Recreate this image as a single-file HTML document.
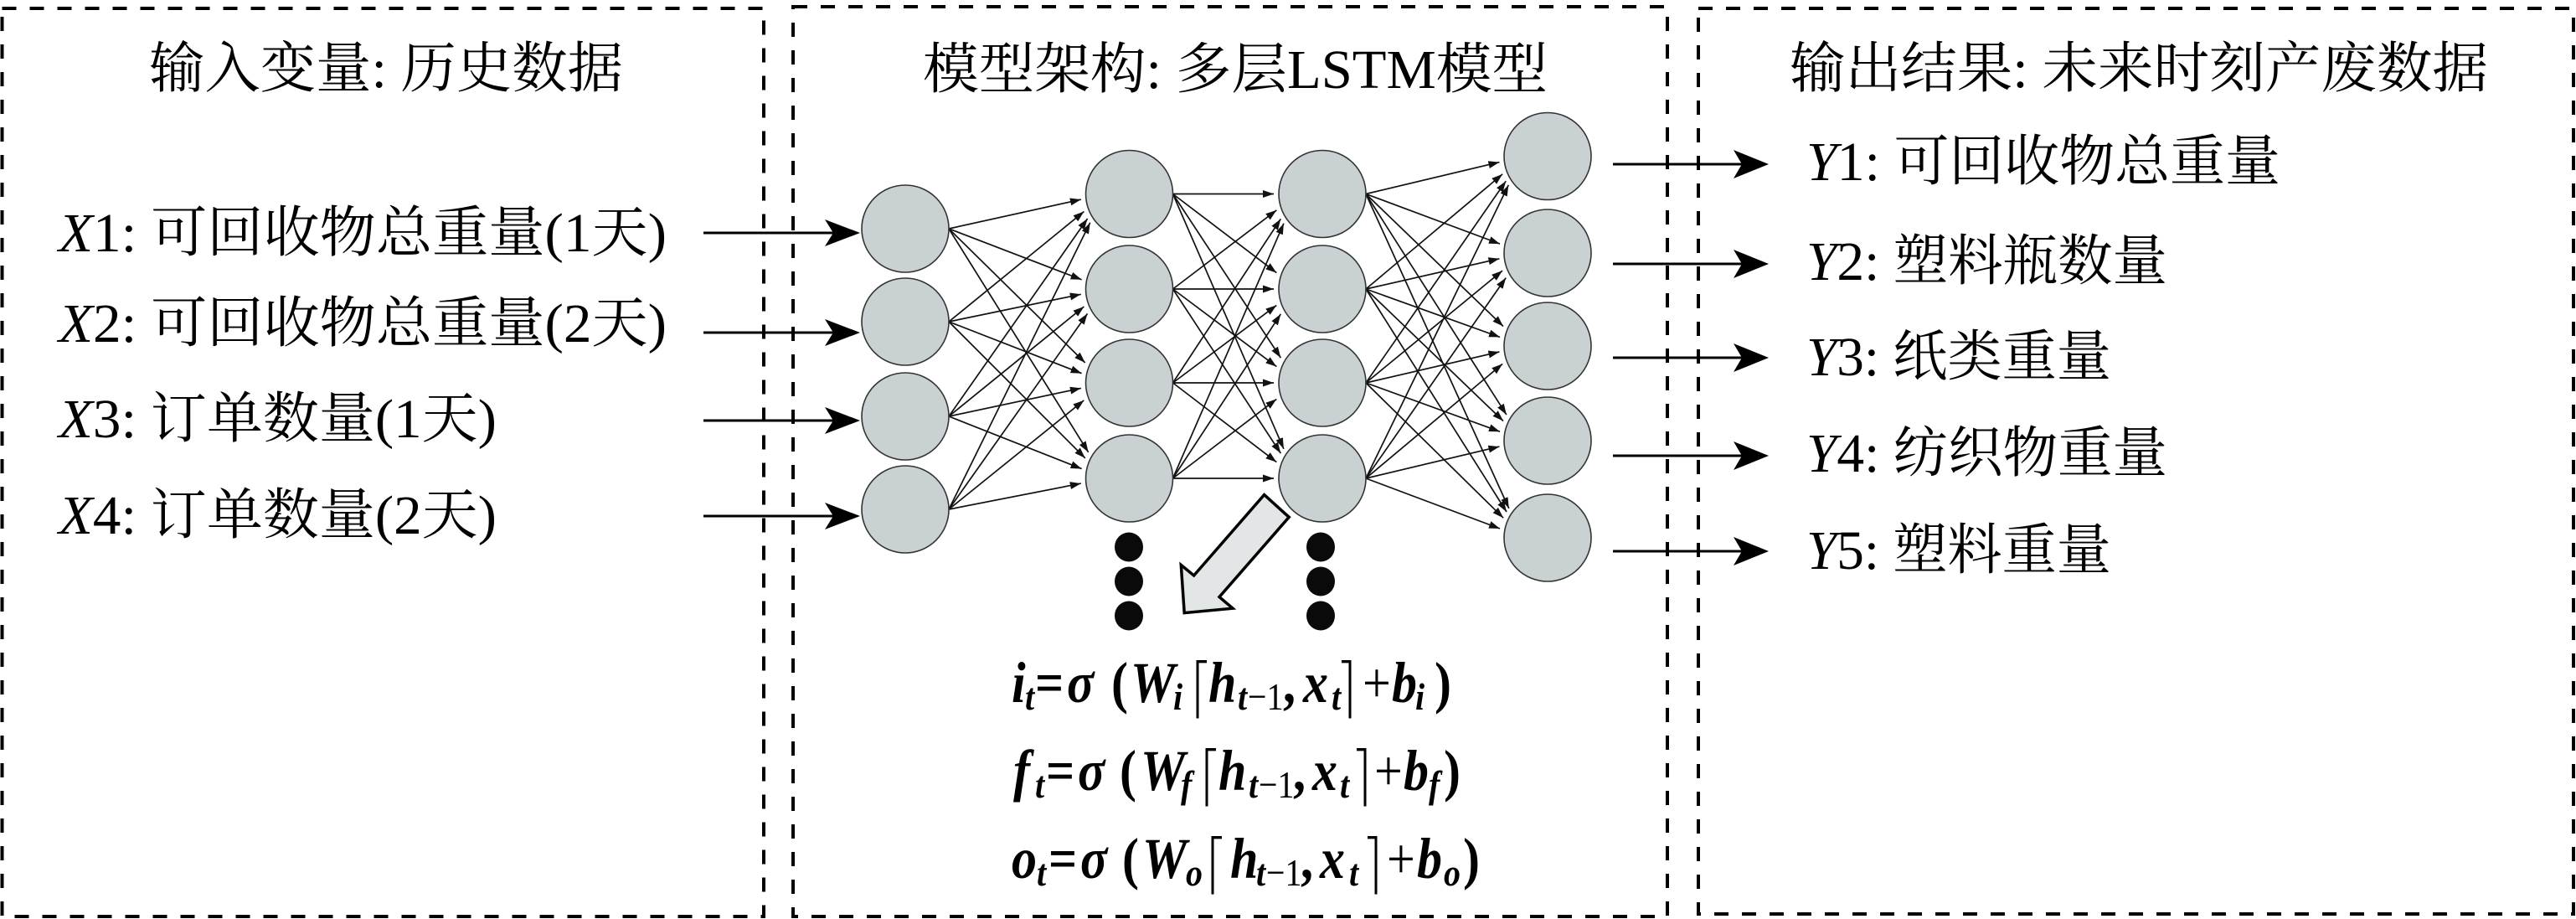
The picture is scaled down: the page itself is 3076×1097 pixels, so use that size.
<!DOCTYPE html>
<html><head><meta charset="utf-8"><style>
html,body{margin:0;padding:0;background:#fff;}
body{width:3076px;height:1097px;overflow:hidden;}
svg{display:block;}
.t{font-family:"Liberation Serif","Noto Serif CJK SC",serif;font-size:66px;fill:#000;}
.m{font-family:"Liberation Serif",serif;font-style:italic;font-weight:bold;font-size:60px;fill:#000;}
.s{font-family:"Liberation Serif",serif;font-style:italic;font-weight:bold;font-size:40px;fill:#000;}
.u{font-family:"Liberation Serif",serif;font-weight:bold;font-size:60px;fill:#000;}
.p{font-family:"Liberation Serif",serif;font-size:60px;fill:#000;}
.su{font-family:"Liberation Serif",serif;font-size:40px;fill:#000;}
.n line{stroke:#111;stroke-width:1.7;marker-end:url(#ah);}
.c{fill:#c9d1d3;stroke:#333;stroke-width:1.6;}
.br{fill:none;stroke:#000;stroke-width:3;}
</style></head><body>
<svg width="3076" height="1097" viewBox="0 0 3076 1097" xmlns="http://www.w3.org/2000/svg">
<defs>
<marker id="ah" markerWidth="14" markerHeight="10" refX="13" refY="5" orient="auto" markerUnits="userSpaceOnUse">
<path d="M0,0.5 L13,5 L0,9.5 z" fill="#111"/>
</marker>
</defs>

<rect x="2.5" y="10" width="909.5" height="1084" fill="none" stroke="#000" stroke-width="4" stroke-dasharray="17 16"/>
<rect x="947" y="8" width="1044" height="1086" fill="none" stroke="#000" stroke-width="4" stroke-dasharray="17 16"/>
<rect x="2028" y="10" width="1045" height="1081" fill="none" stroke="#000" stroke-width="4" stroke-dasharray="17 16"/>

<text class="t" x="178" y="104" textLength="566" lengthAdjust="spacingAndGlyphs">输入变量: 历史数据</text>
<text class="t" x="1102" y="105" textLength="746" lengthAdjust="spacingAndGlyphs">模型架构: 多层LSTM模型</text>
<text class="t" x="2137" y="104" textLength="834" lengthAdjust="spacingAndGlyphs">输出结果: 未来时刻产废数据</text>

<text class="t" x="70" y="300" textLength="726" lengthAdjust="spacingAndGlyphs"><tspan font-style="italic">X</tspan>1: 可回收物总重量(1天)</text>
<text class="t" x="70" y="408" textLength="726" lengthAdjust="spacingAndGlyphs"><tspan font-style="italic">X</tspan>2: 可回收物总重量(2天)</text>
<text class="t" x="70" y="522" textLength="523" lengthAdjust="spacingAndGlyphs"><tspan font-style="italic">X</tspan>3: 订单数量(1天)</text>
<text class="t" x="70" y="637" textLength="523" lengthAdjust="spacingAndGlyphs"><tspan font-style="italic">X</tspan>4: 订单数量(2天)</text>

<g stroke="#000" stroke-width="3">
<line x1="840" y1="278" x2="1000" y2="278"/>
<line x1="840" y1="397" x2="1000" y2="397"/>
<line x1="840" y1="502" x2="1000" y2="502"/>
<line x1="840" y1="616" x2="1000" y2="616"/>
</g>
<g fill="#000">
<path d="M1027,278 L985,262 L995,278 L985,294 z"/>
<path d="M1027,397 L985,381 L995,397 L985,413 z"/>
<path d="M1027,502 L985,486 L995,502 L985,518 z"/>
<path d="M1027,616 L985,600 L995,616 L985,632 z"/>
</g>

<text class="t" x="2157" y="215" textLength="566" lengthAdjust="spacingAndGlyphs"><tspan font-style="italic">Y</tspan>1: 可回收物总重量</text>
<text class="t" x="2157" y="334" textLength="431" lengthAdjust="spacingAndGlyphs"><tspan font-style="italic">Y</tspan>2: 塑料瓶数量</text>
<text class="t" x="2157" y="448" textLength="364" lengthAdjust="spacingAndGlyphs"><tspan font-style="italic">Y</tspan>3: 纸类重量</text>
<text class="t" x="2157" y="563" textLength="431" lengthAdjust="spacingAndGlyphs"><tspan font-style="italic">Y</tspan>4: 纺织物重量</text>
<text class="t" x="2157" y="679" textLength="364" lengthAdjust="spacingAndGlyphs"><tspan font-style="italic">Y</tspan>5: 塑料重量</text>

<g stroke="#000" stroke-width="3">
<line x1="1926" y1="196" x2="2085" y2="196"/>
<line x1="1926" y1="315" x2="2085" y2="315"/>
<line x1="1926" y1="427" x2="2085" y2="427"/>
<line x1="1926" y1="544" x2="2085" y2="544"/>
<line x1="1926" y1="658" x2="2085" y2="658"/>
</g>
<g fill="#000">
<path d="M2112,196 L2070,179 L2080,196 L2070,213 z"/>
<path d="M2112,315 L2070,298 L2080,315 L2070,332 z"/>
<path d="M2112,427 L2070,410 L2080,427 L2070,444 z"/>
<path d="M2112,544 L2070,527 L2080,544 L2070,561 z"/>
<path d="M2112,658 L2070,641 L2080,658 L2070,675 z"/>
</g>

<g class="n">
<line x1="1133" y1="273" x2="1290.9" y2="238.1"/>
<line x1="1133" y1="273" x2="1291.6" y2="333.8"/>
<line x1="1133" y1="273" x2="1295.7" y2="433.0"/>
<line x1="1133" y1="273" x2="1299.6" y2="539.8"/>
<line x1="1133" y1="384" x2="1294.4" y2="252.5"/>
<line x1="1133" y1="384" x2="1290.8" y2="351.3"/>
<line x1="1133" y1="384" x2="1291.6" y2="445.7"/>
<line x1="1133" y1="384" x2="1295.8" y2="546.9"/>
<line x1="1133" y1="497" x2="1298.6" y2="261.0"/>
<line x1="1133" y1="497" x2="1294.4" y2="366.0"/>
<line x1="1133" y1="497" x2="1290.9" y2="463.4"/>
<line x1="1133" y1="497" x2="1291.6" y2="559.6"/>
<line x1="1133" y1="608" x2="1301.7" y2="265.8"/>
<line x1="1133" y1="608" x2="1298.5" y2="374.4"/>
<line x1="1133" y1="608" x2="1294.3" y2="477.9"/>
<line x1="1133" y1="608" x2="1290.8" y2="577.1"/>
<line x1="1400.5" y1="231.5" x2="1521" y2="231.5"/>
<line x1="1400.5" y1="231.5" x2="1524.3" y2="325.6"/>
<line x1="1400.5" y1="231.5" x2="1529.3" y2="427.1"/>
<line x1="1400.5" y1="231.5" x2="1532.9" y2="535.8"/>
<line x1="1400.5" y1="345" x2="1524.3" y2="250.9"/>
<line x1="1400.5" y1="345" x2="1521" y2="345"/>
<line x1="1400.5" y1="345" x2="1524.3" y2="437.6"/>
<line x1="1400.5" y1="345" x2="1529.3" y2="541.1"/>
<line x1="1400.5" y1="457" x2="1529.3" y2="261.4"/>
<line x1="1400.5" y1="457" x2="1524.3" y2="364.4"/>
<line x1="1400.5" y1="457" x2="1521" y2="457"/>
<line x1="1400.5" y1="457" x2="1524.3" y2="551.6"/>
<line x1="1400.5" y1="571" x2="1532.9" y2="266.7"/>
<line x1="1400.5" y1="571" x2="1529.3" y2="374.9"/>
<line x1="1400.5" y1="571" x2="1524.3" y2="476.4"/>
<line x1="1400.5" y1="571" x2="1521" y2="571"/>
<line x1="1631" y1="231.5" x2="1790.4" y2="193.6"/>
<line x1="1631" y1="231.5" x2="1791.0" y2="291.1"/>
<line x1="1631" y1="231.5" x2="1795.0" y2="389.5"/>
<line x1="1631" y1="231.5" x2="1798.9" y2="495.1"/>
<line x1="1631" y1="231.5" x2="1801.8" y2="606.9"/>
<line x1="1631" y1="345" x2="1794.1" y2="207.9"/>
<line x1="1631" y1="345" x2="1790.4" y2="308.8"/>
<line x1="1631" y1="345" x2="1791.0" y2="402.4"/>
<line x1="1631" y1="345" x2="1795.0" y2="502.5"/>
<line x1="1631" y1="345" x2="1799.0" y2="611.0"/>
<line x1="1631" y1="457" x2="1798.2" y2="216.2"/>
<line x1="1631" y1="457" x2="1794.0" y2="323.1"/>
<line x1="1631" y1="457" x2="1790.4" y2="420.0"/>
<line x1="1631" y1="457" x2="1791.0" y2="515.2"/>
<line x1="1631" y1="457" x2="1795.1" y2="618.2"/>
<line x1="1631" y1="571" x2="1801.3" y2="220.9"/>
<line x1="1631" y1="571" x2="1798.2" y2="331.6"/>
<line x1="1631" y1="571" x2="1794.1" y2="434.4"/>
<line x1="1631" y1="571" x2="1790.4" y2="533.1"/>
<line x1="1631" y1="571" x2="1791.0" y2="631.0"/>
</g>

<g class="c">
<circle cx="1081" cy="273" r="52"/>
<circle cx="1081" cy="384" r="52"/>
<circle cx="1081" cy="497" r="52"/>
<circle cx="1081" cy="608" r="52"/>
<circle cx="1348.5" cy="231.5" r="52"/>
<circle cx="1348.5" cy="345" r="52"/>
<circle cx="1348.5" cy="457" r="52"/>
<circle cx="1348.5" cy="571" r="52"/>
<circle cx="1579" cy="231.5" r="52"/>
<circle cx="1579" cy="345" r="52"/>
<circle cx="1579" cy="457" r="52"/>
<circle cx="1579" cy="571" r="52"/>
<circle cx="1848" cy="186.5" r="52"/>
<circle cx="1848" cy="302" r="52"/>
<circle cx="1848" cy="413" r="52"/>
<circle cx="1848" cy="526" r="52"/>
<circle cx="1848" cy="642" r="52"/>
</g>

<g fill="#0a0a0a">
<ellipse cx="1348" cy="653" rx="17" ry="17.5"/>
<ellipse cx="1348" cy="694" rx="17" ry="17.5"/>
<ellipse cx="1348" cy="735" rx="17" ry="17.5"/>
<ellipse cx="1577" cy="653" rx="17" ry="17.5"/>
<ellipse cx="1577" cy="694" rx="17" ry="17.5"/>
<ellipse cx="1577" cy="735" rx="17" ry="17.5"/>
</g>

<polygon points="1509.6,590.6 1539.2,617.3 1456,712.6 1472,726.2 1414.2,731.6 1410.3,674.4 1425.6,687" fill="#e2e6e6" stroke="#000" stroke-width="3.5"/>

<g transform="translate(0,838) scale(1,1.15) translate(0,-838)">
<text class="m" x="1208" y="838">i</text>
<text class="s" x="1224" y="846">t</text>
<text class="u" x="1236" y="838">=</text>
<text class="m" x="1274" y="838">σ</text>
<text class="u" x="1327" y="838">(</text>
<text class="m" x="1350" y="838">W</text>
<text class="s" x="1401" y="846">i</text>
<path class="br" d="M1441,796 L1430,796 L1430,855"/>
<text class="m" x="1443" y="838">h</text>
<text class="s" x="1478" y="846">t</text>
<text class="su" x="1490" y="846">−1</text>
<text class="u" x="1532" y="838">,</text>
<text class="m" x="1556" y="838">x</text>
<text class="s" x="1590" y="846">t</text>
<path class="br" d="M1602,796 L1612,796 L1612,855"/>
<text class="p" x="1627" y="838">+</text>
<text class="m" x="1662" y="838">b</text>
<text class="s" x="1690" y="846">i</text>
<text class="u" x="1713" y="838">)</text>
</g>

<g transform="translate(0,943) scale(1,1.15) translate(0,-943)">
<text class="m" x="1210" y="943">f</text>
<text class="s" x="1236" y="951">t</text>
<text class="u" x="1249" y="943">=</text>
<text class="m" x="1287" y="943">σ</text>
<text class="u" x="1337" y="943">(</text>
<text class="m" x="1362" y="943">W</text>
<text class="s" x="1410" y="951">f</text>
<path class="br" d="M1452,901 L1441,901 L1441,960"/>
<text class="m" x="1455" y="943">h</text>
<text class="s" x="1491" y="951">t</text>
<text class="su" x="1503" y="951">−1</text>
<text class="u" x="1544" y="943">,</text>
<text class="m" x="1567" y="943">x</text>
<text class="s" x="1600" y="951">t</text>
<path class="br" d="M1620,901 L1630,901 L1630,960"/>
<text class="p" x="1641" y="943">+</text>
<text class="m" x="1676" y="943">b</text>
<text class="s" x="1706" y="951">f</text>
<text class="u" x="1724" y="943">)</text>
</g>

<g transform="translate(0,1048) scale(1,1.15) translate(0,-1048)">
<text class="m" x="1208" y="1048">o</text>
<text class="s" x="1238" y="1056">t</text>
<text class="u" x="1252" y="1048">=</text>
<text class="m" x="1290" y="1048">σ</text>
<text class="u" x="1340" y="1048">(</text>
<text class="m" x="1364" y="1048">W</text>
<text class="s" x="1416" y="1056">o</text>
<path class="br" d="M1459,1006 L1448,1006 L1448,1065"/>
<text class="m" x="1469" y="1048">h</text>
<text class="s" x="1500" y="1056">t</text>
<text class="su" x="1512" y="1056">−1</text>
<text class="u" x="1553" y="1048">,</text>
<text class="m" x="1576" y="1048">x</text>
<text class="s" x="1611" y="1056">t</text>
<path class="br" d="M1633,1006 L1643,1006 L1643,1065"/>
<text class="p" x="1656" y="1048">+</text>
<text class="m" x="1692" y="1048">b</text>
<text class="s" x="1724" y="1056">o</text>
<text class="u" x="1747" y="1048">)</text>
</g>
</svg>
</body></html>
